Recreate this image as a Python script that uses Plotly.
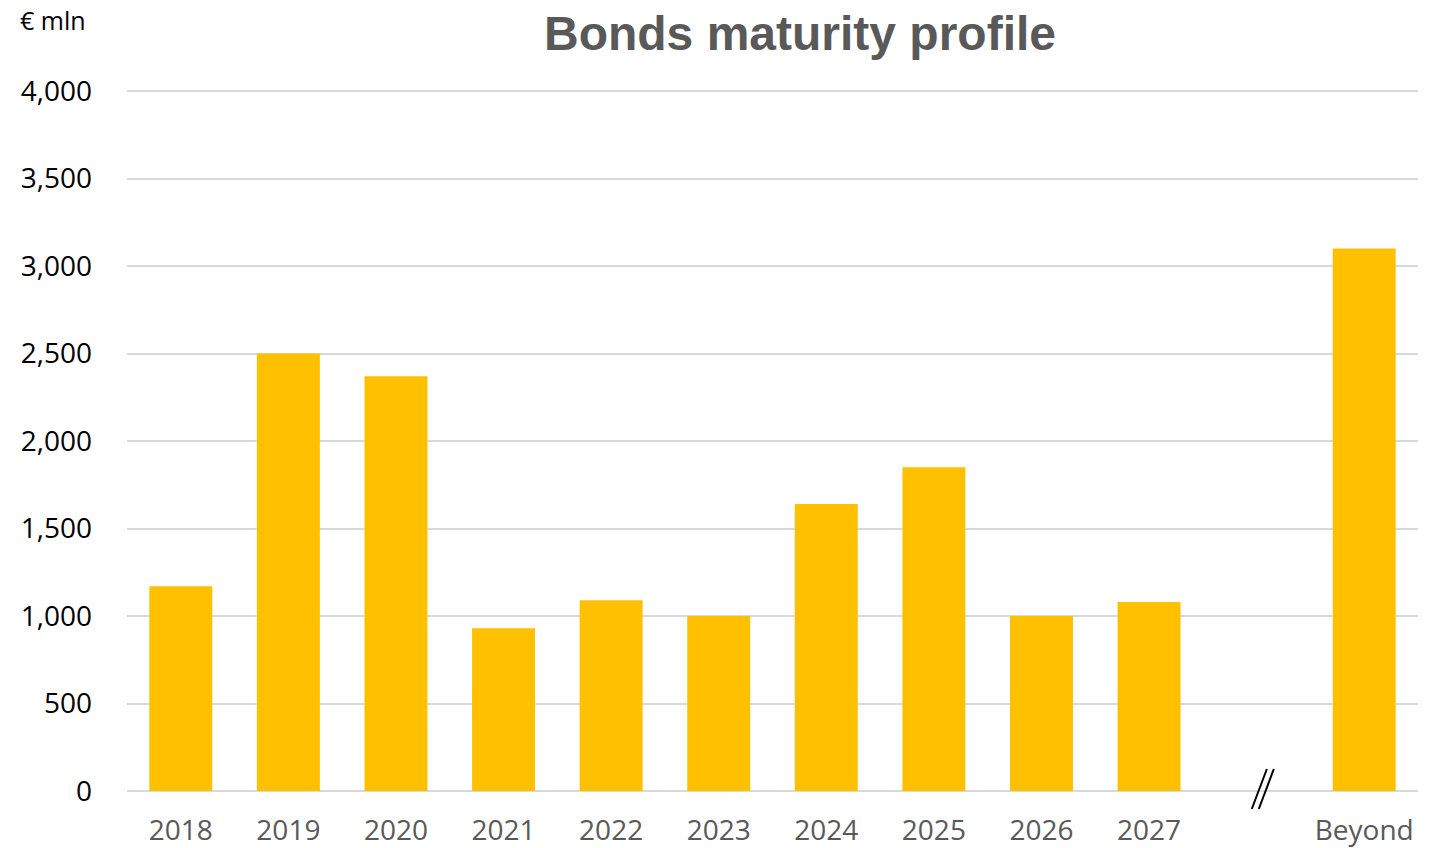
import plotly.graph_objects as go

# Bond maturities by year, € mln
categories = ["2018", "2019", "2020", "2021", "2022", "2023",
              "2024", "2025", "2026", "2027", "", "Beyond"]
values = [1170, 2500, 2370, 930, 1090, 1000, 1640, 1850, 1000, 1080, None, 3100]
y_ticks = [0, 500, 1000, 1500, 2000, 2500, 3000, 3500, 4000]

positions = list(range(len(categories)))
label_pos = [p for p, c in zip(positions, categories) if c]
label_txt = [c for c in categories if c]

fig = go.Figure(
    go.Bar(
        x=positions,
        y=values,
        marker=dict(color="#FFC000", line=dict(width=0)),
        hoverinfo="skip",
    )
)

grid = "#D9D9D9"
fig.update_layout(
    width=1440,
    height=848,
    margin=dict(l=127, r=22, t=91, b=57, autoexpand=False),
    paper_bgcolor="white",
    plot_bgcolor="white",
    bargap=0.415,
    showlegend=False,
    font=dict(family="Open Sans", size=28, color="#000000"),
    xaxis=dict(
        range=[-0.5, len(categories) - 0.5],
        tickmode="array",
        tickvals=label_pos,
        ticktext=label_txt,
        tickfont=dict(family="Open Sans", size=28, color="#595959"),
        showgrid=False,
        zeroline=False,
        showline=False,
        ticks="",
        ticklabelstandoff=20,
        automargin=False,
        fixedrange=True,
    ),
    yaxis=dict(
        range=[0, 4000],
        tickmode="array",
        tickvals=y_ticks,
        tickformat=",",
        tickfont=dict(family="Open Sans", size=28, color="#000000"),
        showgrid=True,
        gridcolor=grid,
        gridwidth=2,
        zeroline=True,
        zerolinecolor=grid,
        zerolinewidth=2,
        showline=False,
        ticks="",
        ticklabelstandoff=34,
        automargin=False,
        fixedrange=True,
    ),
    title=dict(
        text="<b>Bonds maturity profile</b>",
        x=800 / 1440,
        xanchor="center",
        y=1 - 33 / 848,
        yanchor="middle",
        font=dict(family="Liberation Sans", size=48, color="#595959"),
    ),
    annotations=[
        dict(
            text="€ mln",
            xref="paper", yref="paper",
            x=(18 - 127) / 1291, y=(791 - 20) / 700,
            xanchor="left", yanchor="middle",
            showarrow=False,
            font=dict(family="Open Sans", size=25, color="#000000"),
        )
    ],
)

# top gridline at the upper edge of the value range
fig.add_shape(
    type="line", xref="paper", yref="paper",
    x0=0, x1=1, y0=1, y1=1,
    line=dict(color=grid, width=2), layer="below",
)

# axis-break marks in the empty slot
gap_slot = categories.index("")
for dx in (0.0, 0.065):
    fig.add_shape(
        type="line",
        xref="x", yref="paper",
        x0=gap_slot - 0.045 + dx, y0=(791 - 809) / 700,
        x1=gap_slot + 0.095 + dx, y1=(791 - 769) / 700,
        line=dict(color="#000000", width=2),
    )

fig.write_html("out.html")
